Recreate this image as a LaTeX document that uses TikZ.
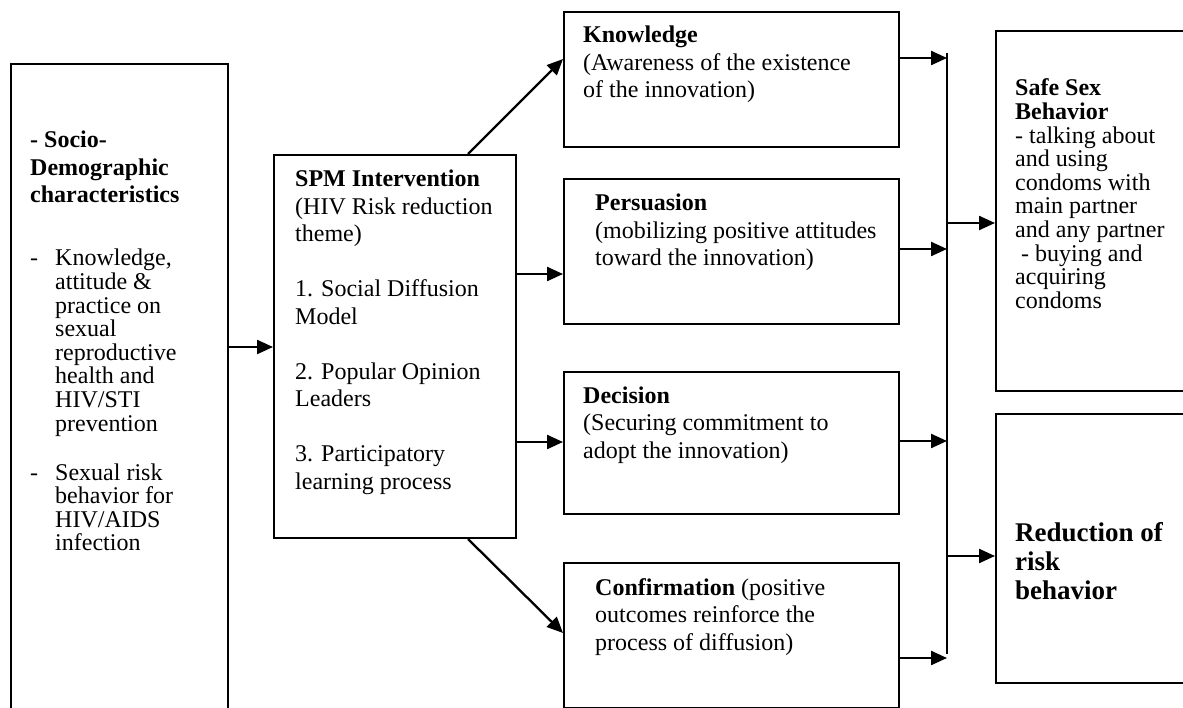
\documentclass[tikz,border=0pt]{standalone}
\usepackage{fontspec}
\setmainfont{Liberation Serif}
\usetikzlibrary{arrows.meta}
\begin{document}
\begin{tikzpicture}[x=1pt,y=-1pt,
  box/.style={draw, line width=2pt, inner sep=0pt, anchor=north west},
  arr/.style={line width=2.3pt, -{Triangle[length=16pt,width=14pt]}},
  busline/.style={line width=2.2pt},
  txt/.style={inner sep=0pt, anchor=base west, font=\fontsize{24}{27.5}\selectfont},
  tight/.style={font=\fontsize{24}{23.6}\selectfont}]
\useasboundingbox (0,0) rectangle (1183,708);
\clip (0,0) rectangle (1183,708);
\fill[white] (0,0) rectangle (1183,708);

% boxes
\node[box, minimum width=217pt, minimum height=660pt] (L) at (10,63) {};
\node[box, minimum width=242pt, minimum height=383pt] (spm) at (273,154) {};
\node[box, minimum width=335pt, minimum height=135pt] (kn) at (563,11) {};
\node[box, minimum width=335pt, minimum height=145pt] (pe) at (563,178) {};
\node[box, minimum width=335pt, minimum height=142pt] (de) at (563,371) {};
\node[box, minimum width=335pt, minimum height=145pt] (co) at (563,562) {};
\node[box, minimum width=200pt, minimum height=360pt] (ss) at (995,30) {};
\node[box, minimum width=200pt, minimum height=269pt] (rr) at (995,413) {};

% texts
\node[txt] (Lhead) at (30,148) {\parbox[t]{195pt}{\textbf{- Socio-}\\\textbf{Demographic}\\\textbf{characteristics}}};
\node[txt, tight] (Ld1) at (30,266) {-};
\node[txt, tight] (Li1) at (55,266) {\parbox[t]{170pt}{Knowledge,\\attitude \&\\practice on\\sexual\\reproductive\\health and\\HIV/STI\\prevention}};
\node[txt, tight] (Ld2) at (30,480) {-};
\node[txt, tight] (Li2) at (55,480) {\parbox[t]{170pt}{Sexual risk\\behavior for\\HIV/AIDS\\infection}};

\node[txt] (spmT) at (295,187) {\parbox[t]{215pt}{\textbf{SPM Intervention}\\(HIV Risk reduction\\theme)\\[27.5pt]1. Social Diffusion\\Model\\[27.5pt]2. Popular Opinion\\Leaders\\[27.5pt]3. Participatory\\learning process}};

\node[txt] (knT) at (583,43) {\parbox[t]{310pt}{\textbf{Knowledge}\\(Awareness of the existence\\of the innovation)}};
\node[txt] (peT) at (595,211) {\parbox[t]{300pt}{\textbf{Persuasion}\\(mobilizing positive attitudes\\toward the innovation)}};
\node[txt] (deT) at (583,403) {\parbox[t]{310pt}{\textbf{Decision}\\(Securing commitment to\\adopt the innovation)}};
\node[txt] (coT) at (595,595) {\parbox[t]{300pt}{\textbf{Confirmation} (positive\\outcomes reinforce the\\process of diffusion)}};

\node[txt, font=\fontsize{24}{23.6}\selectfont] (ssT) at (1015,96) {\parbox[t]{175pt}{\textbf{Safe Sex}\\\textbf{Behavior}\\- talking about\\and using\\condoms with\\main partner\\and any partner\\\hspace*{0.25em}- buying and\\acquiring\\condoms}};
\node[txt, font=\fontsize{27}{29}\selectfont\bfseries] (rrT) at (1015,541) {\parbox[t]{175pt}{Reduction of\\risk\\behavior}};

% helper coordinates
\coordinate (r347) at (0,347);
\coordinate (r274) at (0,274);
\coordinate (r442) at (0,442);
\coordinate (r58) at (0,58);
\coordinate (r249) at (0,249);
\coordinate (r441) at (0,441);
\coordinate (r658) at (0,658);
\coordinate (r223) at (0,223);
\coordinate (r556) at (0,556);
\coordinate (busT) at (947,53);
\coordinate (busB) at (947,654);

% connectors
\draw[arr] (L.east |- r347) -- (spm.west |- r347);
\draw[arr] ([xshift=-49pt]spm.north east) -- ([yshift=-48pt]kn.north west);
\draw[arr] (spm.east |- r274) -- (pe.west |- r274);
\draw[arr] (spm.east |- r442) -- (de.west |- r442);
\draw[arr] ([xshift=-49pt]spm.south east) -- ([yshift=-71pt]co.north west);

\draw[busline] (busT) -- (busB);
\draw[arr] (kn.east |- r58) -- (busT |- r58);
\draw[arr] (pe.east |- r249) -- (busT |- r249);
\draw[arr] (de.east |- r441) -- (busT |- r441);
\draw[arr] (co.east |- r658) -- (busT |- r658);
\draw[arr] (busT |- r223) -- (ss.west |- r223);
\draw[arr] (busT |- r556) -- (rr.west |- r556);
\end{tikzpicture}
\end{document}
